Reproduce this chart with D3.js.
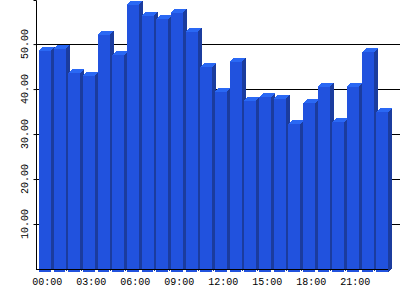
<!DOCTYPE html>
<html>
<head>
<meta charset="utf-8">
<script src="https://cdn.jsdelivr.net/npm/d3@7"></script>
<style>
  body { margin: 0; background: #fff; }
  svg { display: block; }
  text { font-family: "Liberation Mono", "DejaVu Sans Mono", monospace; font-size: 10px; fill: #000; }
</style>
</head>
<body>
<script>
// hourly values, 00:00 .. 23:00
const hours = d3.range(24).map(h => (h < 10 ? '0' : '') + h + ':00');
const values = [49.2, 49.6, 44.3, 43.6, 52.7, 48.3, 59.4, 57.0, 56.2, 57.6, 53.4, 45.6,
                40.1, 46.7, 38.1, 38.8, 38.4, 32.8, 37.5, 41.2, 33.4, 41.2, 48.8, 35.6];
const yTicks = [10, 20, 30, 40, 50];
const xLabels = ['00:00', '03:00', '06:00', '09:00', '12:00', '15:00', '18:00', '21:00'];

const W = 400, H = 300;
const M = { left: 36, right: 388, top: 0, bottom: 269 };
const depth = 4;   // 3d offset of the bars
const drop = 3;    // front face sits below the axis by this much

const svg = d3.select('body')
              .append('svg')
              .attr('width', W)
              .attr('height', H);

const x = d3.scaleBand()
            .domain(hours)
            .range([M.left, M.right]);
const y = d3.scaleLinear()
            .domain([0, 59.8])
            .range([M.bottom, M.top]);

// gridlines
svg.append('g')
   .selectAll('line')
   .data(yTicks)
   .enter()
   .append('line')
   .attr('x1', M.left)
   .attr('x2', W)
   .attr('y1', d => Math.round(y(d)) + 0.5)
   .attr('y2', d => Math.round(y(d)) + 0.5)
   .attr('stroke', '#000');

// bars
const bw = x.bandwidth() - 2.7;
const bars = svg.append('g')
                .attr('shape-rendering', 'crispEdges')
                .selectAll('g')
                .data(values)
                .enter()
                .append('g');

const fx = (d, i) => x(hours[i]) + 3;
const ft = d => y(d) + drop;
const fb = M.bottom + drop;

// side face
bars.append('path')
    .attr('fill', '#1b3c9e')
    .attr('d', (d, i) => {
      const a = fx(d, i) + bw;
      return `M${a},${ft(d)}L${a + depth},${ft(d) - depth}L${a + depth},${fb - depth}L${a},${fb}Z`;
    });

// top face
bars.append('path')
    .attr('fill', '#2a68f4')
    .attr('d', (d, i) => {
      const a = fx(d, i), t = ft(d);
      return `M${a},${t}L${a + depth},${t - depth}L${a + bw + depth},${t - depth}L${a + bw},${t}Z`;
    });

// front face
bars.append('rect')
    .attr('x', (d, i) => fx(d, i))
    .attr('y', d => ft(d))
    .attr('width', bw)
    .attr('height', d => fb - ft(d))
    .attr('fill', '#2152de');

// y axis
const yAxis = d3.axisLeft(y)
                .tickValues(yTicks)
                .tickSize(3)
                .tickFormat('');
svg.append('g')
   .attr('transform', `translate(${M.left + 0.5},0)`)
   .call(yAxis)
   .call(g => g.select('.domain').attr('d', `M-3,0.5H0V${M.bottom}`));

svg.append('g')
   .selectAll('text')
   .data(yTicks)
   .enter()
   .append('text')
   .attr('transform', d => `translate(28,${y(d)}) rotate(-90)`)
   .attr('text-anchor', 'middle')
   .text(d => d3.format('.2f')(d));

// x axis line and white ticks
svg.append('line')
   .attr('x1', M.left)
   .attr('x2', M.right)
   .attr('y1', M.bottom + 0.5)
   .attr('y2', M.bottom + 0.5)
   .attr('stroke', '#000');

svg.append('g')
   .selectAll('line')
   .data(hours.slice(1))
   .enter()
   .append('line')
   .attr('x1', d => Math.round(x(d)) + 0.5)
   .attr('x2', d => Math.round(x(d)) + 0.5)
   .attr('y1', M.bottom + 1)
   .attr('y2', M.bottom + 3)
   .attr('stroke', '#fff');

svg.append('g')
   .selectAll('text')
   .data(xLabels)
   .enter()
   .append('text')
   .attr('x', d => x(d) + x.bandwidth() / 2 + 4)
   .attr('y', 285)
   .attr('text-anchor', 'middle')
   .text(d => d);
</script>
</body>
</html>
